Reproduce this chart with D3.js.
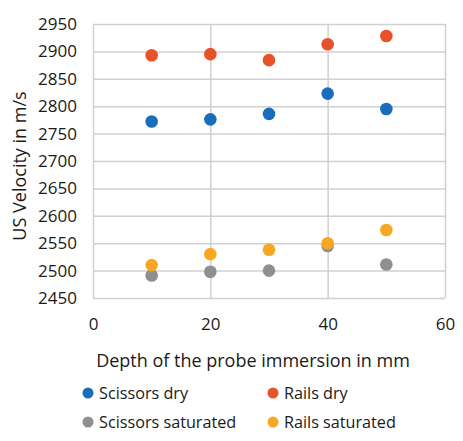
<!DOCTYPE html>
<html>
<head>
<meta charset="utf-8">
<script src="https://cdn.jsdelivr.net/npm/d3@7"></script>
<style>
  body { margin: 0; background: #fff; }
  text { font-family: "Open Sans", sans-serif; fill: #1a1a1a; }
</style>
</head>
<body>
<div id="chart"></div>
<script>
// Depth values (mm) and the four series
const depths = [10, 20, 30, 40, 50];
const scissorsDry = [2772, 2776, 2786, 2823, 2795];
const railsDry = [2893, 2895, 2884, 2913, 2928];
const scissorsSat = [2491, 2498, 2500, 2545, 2511];
const railsSat = [2510, 2530, 2538, 2550, 2574];
const seriesNames = ["Scissors dry", "Rails dry", "Scissors saturated", "Rails saturated"];
const seriesColors = ["#1a6dbd", "#e8522a", "#8f8f8f", "#f6a823"];
const xTicks = [0, 20, 40, 60];
const yTicks = d3.range(2450, 2951, 50);

const W = 463, H = 441;
const margin = { top: 24, right: 18, bottom: 143, left: 93 };

const svg = d3.select("#chart").append("svg")
  .attr("width", W)
  .attr("height", H);

const x = d3.scaleLinear().domain([0, 60]).range([margin.left, W - margin.right]);
const y = d3.scaleLinear().domain([2450, 2950]).range([H - margin.bottom, margin.top]);

// gridlines
svg.append("g")
  .attr("transform", `translate(0,${H - margin.bottom})`)
  .call(d3.axisBottom(x).tickValues(xTicks).tickSize(-(H - margin.top - margin.bottom)).tickFormat(""))
  .call(g => g.select(".domain").remove())
  .call(g => g.selectAll("line").attr("stroke", "#d0d0d0").attr("stroke-width", 1.5));

svg.append("g")
  .attr("transform", `translate(${margin.left},0)`)
  .call(d3.axisLeft(y).tickValues(yTicks).tickSize(-(W - margin.left - margin.right)).tickFormat(""))
  .call(g => g.select(".domain").remove())
  .call(g => g.selectAll("line").attr("stroke", "#d0d0d0").attr("stroke-width", 1.5));

// tick labels
svg.append("g")
  .attr("transform", `translate(0,${H - margin.bottom})`)
  .call(d3.axisBottom(x).tickValues(xTicks).tickSize(0).tickPadding(20).tickFormat(d3.format("d")))
  .call(g => g.select(".domain").remove())
  .call(g => g.selectAll("text").style("font-size", "17px").attr("fill", "#1a1a1a"));

svg.append("g")
  .attr("transform", `translate(${margin.left},0)`)
  .call(d3.axisLeft(y).tickValues(yTicks).tickSize(0).tickPadding(16).tickFormat(d3.format("d")))
  .call(g => g.select(".domain").remove())
  .call(g => g.selectAll("text").style("font-size", "17px").attr("fill", "#1a1a1a"));

// axis titles
svg.append("text")
  .attr("x", 253).attr("y", 367)
  .attr("text-anchor", "middle")
  .style("font-size", "18px")
  .text("Depth of the probe immersion in mm");

svg.append("text")
  .attr("transform", "translate(26,166) rotate(-90)")
  .attr("text-anchor", "middle")
  .style("font-size", "18px")
  .text("US Velocity in m/s");

// points
const allSeries = [scissorsDry, railsDry, scissorsSat, railsSat];
allSeries.forEach((vals, i) => {
  svg.append("g").selectAll("circle")
    .data(vals)
    .enter().append("circle")
    .attr("cx", (d, j) => x(depths[j]))
    .attr("cy", d => y(d))
    .attr("r", 6.3)
    .attr("fill", seriesColors[i]);
});

// legend
const legendPos = [[88, 393], [273, 393], [88, 422], [273, 422]];
seriesNames.forEach((name, i) => {
  const g = svg.append("g").attr("transform", `translate(${legendPos[i][0]},${legendPos[i][1]})`);
  g.append("circle").attr("r", 5.5).attr("fill", seriesColors[i]);
  g.append("text").attr("x", 11).attr("y", 6).style("font-size", "16.2px").text(name);
});
</script>
</body>
</html>
